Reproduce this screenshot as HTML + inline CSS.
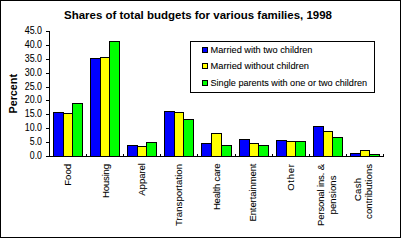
<!DOCTYPE html>
<html><head><meta charset="utf-8"><style>
html,body{margin:0;padding:0;background:#fff;}
svg{display:block;}
text{font-family:"Liberation Sans",sans-serif;stroke:#000;stroke-width:0.08px;}
</style></head><body>
<svg width="401" height="238" viewBox="0 0 401 238">
<rect x="0.5" y="0.5" width="400" height="237" fill="#fff" stroke="#000" stroke-width="1" shape-rendering="crispEdges"/>
<text x="64" y="18.5" font-size="11.5" font-weight="bold" style="stroke:none" textLength="268" lengthAdjust="spacingAndGlyphs">Shares of total budgets for various families, 1998</text>
<text transform="translate(16.5,113.5) rotate(-90)" font-size="11" font-weight="bold" style="stroke:none" textLength="39.5" lengthAdjust="spacingAndGlyphs">Percent</text>
<g font-size="10" fill="#000" style="stroke:none">
<text x="42" y="34" text-anchor="end" textLength="17.3" lengthAdjust="spacingAndGlyphs">45.0</text><text x="42" y="48" text-anchor="end" textLength="17.3" lengthAdjust="spacingAndGlyphs">40.0</text><text x="42" y="62" text-anchor="end" textLength="17.3" lengthAdjust="spacingAndGlyphs">35.0</text><text x="42" y="76" text-anchor="end" textLength="17.3" lengthAdjust="spacingAndGlyphs">30.0</text><text x="42" y="90" text-anchor="end" textLength="17.3" lengthAdjust="spacingAndGlyphs">25.0</text><text x="42" y="103" text-anchor="end" textLength="17.3" lengthAdjust="spacingAndGlyphs">20.0</text><text x="42" y="117" text-anchor="end" textLength="17.3" lengthAdjust="spacingAndGlyphs">15.0</text><text x="42" y="131" text-anchor="end" textLength="17.3" lengthAdjust="spacingAndGlyphs">10.0</text><text x="42" y="145" text-anchor="end" textLength="12.2" lengthAdjust="spacingAndGlyphs">5.0</text><text x="42" y="159" text-anchor="end" textLength="12.2" lengthAdjust="spacingAndGlyphs">0.0</text>
</g>
<g stroke="#000" stroke-width="1" shape-rendering="crispEdges">
<rect x="53.5" y="112.5" width="10" height="44" fill="#0000FF" stroke="#000"/><rect x="63.5" y="113.5" width="9" height="43" fill="#FFFF00" stroke="#000"/><rect x="72.5" y="103.5" width="10" height="53" fill="#00FF00" stroke="#000"/><rect x="90.5" y="58.5" width="10" height="98" fill="#0000FF" stroke="#000"/><rect x="100.5" y="57.5" width="9" height="99" fill="#FFFF00" stroke="#000"/><rect x="109.5" y="41.5" width="10" height="115" fill="#00FF00" stroke="#000"/><rect x="127.5" y="145.5" width="10" height="11" fill="#0000FF" stroke="#000"/><rect x="137.5" y="146.5" width="9" height="10" fill="#FFFF00" stroke="#000"/><rect x="146.5" y="142.5" width="10" height="14" fill="#00FF00" stroke="#000"/><rect x="164.5" y="111.5" width="10" height="45" fill="#0000FF" stroke="#000"/><rect x="174.5" y="112.5" width="9" height="44" fill="#FFFF00" stroke="#000"/><rect x="183.5" y="119.5" width="10" height="37" fill="#00FF00" stroke="#000"/><rect x="201.5" y="143.5" width="10" height="13" fill="#0000FF" stroke="#000"/><rect x="211.5" y="133.5" width="10" height="23" fill="#FFFF00" stroke="#000"/><rect x="221.5" y="145.5" width="10" height="11" fill="#00FF00" stroke="#000"/><rect x="239.5" y="139.5" width="10" height="17" fill="#0000FF" stroke="#000"/><rect x="249.5" y="143.5" width="9" height="13" fill="#FFFF00" stroke="#000"/><rect x="258.5" y="145.5" width="10" height="11" fill="#00FF00" stroke="#000"/><rect x="276.5" y="140.5" width="10" height="16" fill="#0000FF" stroke="#000"/><rect x="286.5" y="141.5" width="9" height="15" fill="#FFFF00" stroke="#000"/><rect x="295.5" y="141.5" width="10" height="15" fill="#00FF00" stroke="#000"/><rect x="313.5" y="126.5" width="10" height="30" fill="#0000FF" stroke="#000"/><rect x="323.5" y="131.5" width="9" height="25" fill="#FFFF00" stroke="#000"/><rect x="332.5" y="137.5" width="10" height="19" fill="#00FF00" stroke="#000"/><rect x="350.5" y="153.5" width="10" height="3" fill="#0000FF" stroke="#000"/><rect x="360.5" y="150.5" width="9" height="6" fill="#FFFF00" stroke="#000"/><rect x="369.5" y="154.5" width="10" height="2" fill="#00FF00" stroke="#000"/>
<line x1="49.5" y1="31" x2="49.5" y2="157"/>
<line x1="49" y1="156.5" x2="384" y2="156.5"/>
<line x1="46" y1="31.5" x2="49" y2="31.5"/><line x1="46" y1="45.5" x2="49" y2="45.5"/><line x1="46" y1="59.5" x2="49" y2="59.5"/><line x1="46" y1="73.5" x2="49" y2="73.5"/><line x1="46" y1="87.5" x2="49" y2="87.5"/><line x1="46" y1="100.5" x2="49" y2="100.5"/><line x1="46" y1="114.5" x2="49" y2="114.5"/><line x1="46" y1="128.5" x2="49" y2="128.5"/><line x1="46" y1="142.5" x2="49" y2="142.5"/><line x1="46" y1="156.5" x2="49" y2="156.5"/>
<line x1="49.5" y1="154" x2="49.5" y2="156"/><line x1="86.5" y1="154" x2="86.5" y2="156"/><line x1="123.5" y1="154" x2="123.5" y2="156"/><line x1="160.5" y1="154" x2="160.5" y2="156"/><line x1="197.5" y1="154" x2="197.5" y2="156"/><line x1="235.5" y1="154" x2="235.5" y2="156"/><line x1="272.5" y1="154" x2="272.5" y2="156"/><line x1="309.5" y1="154" x2="309.5" y2="156"/><line x1="346.5" y1="154" x2="346.5" y2="156"/><line x1="383.5" y1="154" x2="383.5" y2="156"/>
</g>
<g shape-rendering="crispEdges" stroke="#000">
<rect x="190.5" y="41.5" width="184" height="51" fill="#fff"/>
<rect x="202.5" y="47.5" width="5" height="5" fill="#0000FF"/>
<rect x="202.5" y="63.5" width="5" height="5" fill="#FFFF00"/>
<rect x="202.5" y="80.5" width="5" height="5" fill="#00FF00"/>
</g>
<g font-size="9">
<text x="210.5" y="52.5" textLength="102" lengthAdjust="spacingAndGlyphs">Married with two children</text>
<text x="210.5" y="68.5" textLength="98.5" lengthAdjust="spacingAndGlyphs">Married without children</text>
<text x="210.5" y="85.5" textLength="156.6" lengthAdjust="spacingAndGlyphs">Single parents with one or two children</text>
</g>
<g font-size="9.5" text-anchor="end" lengthAdjust="spacingAndGlyphs">
<text transform="translate(71,164) rotate(-90)" textLength="21.7">Food</text>
<text transform="translate(108.5,164) rotate(-90)" textLength="33.9">Housing</text>
<text transform="translate(144.5,163) rotate(-90)" textLength="32.7">Apparel</text>
<text transform="translate(182,164) rotate(-90)" textLength="61.9">Transportation</text>
<text transform="translate(219.5,163.5) rotate(-90)" textLength="46.6">Health care</text>
<text transform="translate(256,163.5) rotate(-90)" textLength="58.1">Entertainment</text>
<text transform="translate(293.5,164) rotate(-90)" textLength="26.8">Other</text>
<text transform="translate(323.5,164) rotate(-90)" textLength="61.9">Personal ins. &amp;</text>
<text transform="translate(336,195) rotate(-90)" text-anchor="middle" textLength="39">pensions</text>
<text transform="translate(361,189.5) rotate(-90)" text-anchor="middle" textLength="23.2">Cash</text>
<text transform="translate(372,164) rotate(-90)" textLength="54.9">contributions</text>
</g>
</svg>
</body></html>
